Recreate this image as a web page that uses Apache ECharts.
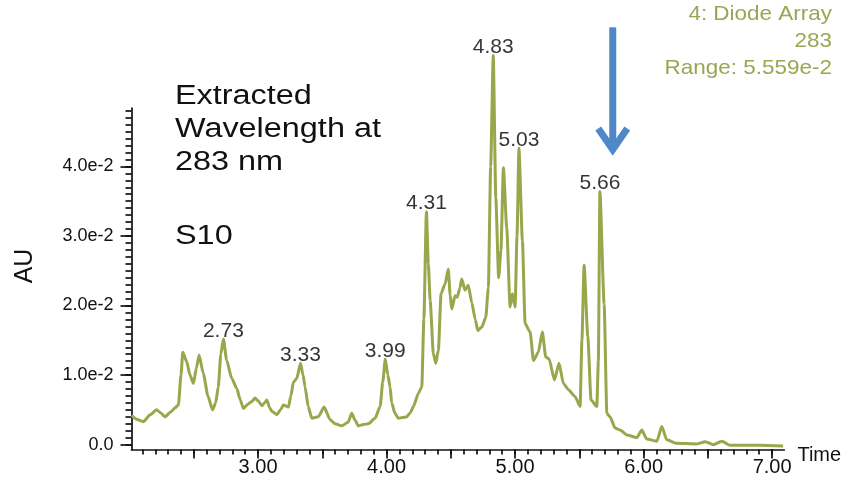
<!DOCTYPE html>
<html>
<head>
<meta charset="utf-8">
<script src="https://cdn.jsdelivr.net/npm/echarts@6/dist/echarts.min.js"></script>
<style>
  html, body { margin: 0; padding: 0; background: #ffffff; }
  #chart { width: 848px; height: 488px; }
</style>
</head>
<body>
<div id="chart"></div>
<script>
// Retention time (min) of each sampled point of the trace
const times = [
  2.015, 2.06, 2.107, 2.16, 2.21, 2.24, 2.276, 2.32, 2.354, 2.38,
  2.40, 2.414, 2.445, 2.47, 2.497, 2.52, 2.541, 2.574, 2.61, 2.645,
  2.67, 2.69, 2.71, 2.73, 2.756, 2.795, 2.834, 2.86, 2.886, 2.92,
  2.951, 2.977, 3.00, 3.03, 3.05, 3.068, 3.09, 3.107, 3.146, 3.175,
  3.197, 3.236, 3.255, 3.275, 3.301, 3.33, 3.35, 3.366, 3.39, 3.418,
  3.469, 3.514, 3.56, 3.60, 3.651, 3.70, 3.729, 3.755, 3.78, 3.82,
  3.858, 3.911, 3.95, 3.97, 3.99, 4.01, 4.027, 4.04, 4.065, 4.092,
  4.125, 4.157, 4.185, 4.209, 4.248, 4.274, 4.29, 4.31, 4.325, 4.339,
  4.364, 4.383, 4.403, 4.424, 4.455, 4.48, 4.495, 4.507, 4.533, 4.55,
  4.57, 4.585, 4.61, 4.636, 4.663, 4.69, 4.71, 4.741, 4.772, 4.792,
  4.81, 4.83, 4.85, 4.872, 4.89, 4.909, 4.935, 4.961, 4.979, 5.00,
  5.015, 5.03, 5.057, 5.078, 5.117, 5.143, 5.181, 5.212, 5.239, 5.265,
  5.306, 5.342, 5.376, 5.415, 5.467, 5.506, 5.52, 5.537, 5.566, 5.591,
  5.636, 5.648, 5.66, 5.693, 5.714, 5.739, 5.778, 5.817, 5.869, 5.947,
  5.986, 6.025, 6.103, 6.142, 6.18, 6.258, 6.414, 6.479, 6.543, 6.609,
  6.673, 6.907, 7.086
];

// Absorbance (AU) at 283 nm for each time above
const absorbance = [
  0.0042, 0.0036, 0.0033, 0.0043, 0.0050, 0.0046, 0.0040, 0.0047, 0.0053, 0.0057,
  0.0100, 0.0133, 0.0119, 0.0100, 0.0088, 0.0110, 0.0129, 0.0102, 0.0070, 0.0050,
  0.0060, 0.0083, 0.0130, 0.0152, 0.0121, 0.0095, 0.0081, 0.0065, 0.0052, 0.0058,
  0.0062, 0.0067, 0.0063, 0.0056, 0.0060, 0.0064, 0.0053, 0.0048, 0.0043, 0.0050,
  0.0057, 0.0054, 0.0070, 0.0090, 0.0095, 0.0117, 0.0100, 0.0083, 0.0055, 0.0038,
  0.0040, 0.0054, 0.0036, 0.0030, 0.0027, 0.0032, 0.0045, 0.0035, 0.0027, 0.0029,
  0.0030, 0.0038, 0.0055, 0.0090, 0.0123, 0.0100, 0.0083, 0.0060, 0.0045, 0.0038,
  0.0039, 0.0040, 0.0046, 0.0055, 0.0074, 0.0083, 0.0180, 0.0335, 0.0260, 0.0207,
  0.0131, 0.0117, 0.0136, 0.0217, 0.0231, 0.0252, 0.0215, 0.0195, 0.0214, 0.0212,
  0.0225, 0.0238, 0.0222, 0.0229, 0.0204, 0.0180, 0.0164, 0.0169, 0.0183, 0.0226,
  0.0400, 0.0560, 0.0355, 0.0240, 0.0280, 0.0398, 0.0312, 0.0198, 0.0217, 0.0198,
  0.0300, 0.0426, 0.0293, 0.0174, 0.0162, 0.0121, 0.0133, 0.0162, 0.0126, 0.0123,
  0.0093, 0.0117, 0.0088, 0.0079, 0.0069, 0.0055, 0.0150, 0.0258, 0.0155, 0.0064,
  0.0055, 0.0120, 0.0364, 0.0202, 0.0045, 0.0040, 0.0024, 0.0021, 0.0014, 0.0010,
  0.0021, 0.0008, 0.0005, 0.0026, 0.0007, 0.0002, 0.0001, 0.0004, 0.0000, 0.0005,
  -0.0001, -0.0001, -0.0002
];

// Labelled peak apexes (retention time, min)
const peakTimes = [2.73, 3.33, 3.99, 4.31, 4.83, 5.03, 5.66];

// Axis label positions
const yLabelValues = [0, 0.01, 0.02, 0.03, 0.04];
const xLabelValues = [3, 4, 5, 6, 7];

// Annotation texts
const titleLines = ['Extracted', 'Wavelength at', '283 nm'];
const sampleName = 'S10';
const detectorLines = ['4: Diode Array', '283', 'Range: 5.559e-2'];
const yAxisTitle = 'AU';

const xMin = 2.015, xMax = 7.095;
const yMin = -0.0007, yMax = 0.0484;

// tick positions: major x ticks every 0.5 min, minor every 0.1 min; minor y every 0.001
const xMajorTicks = [];
for (let i = 5; i <= 14; i++) xMajorTicks.push(+(i * 0.5).toFixed(2));
const xMinorTicks = [];
for (let i = 21; i <= 70; i++) xMinorTicks.push(+(i * 0.1).toFixed(2));
const yMinorTicks = [];
for (let i = 0; i <= 48; i++) yMinorTicks.push(+(i * 0.001).toFixed(4));

const traceColor = '#9aa64c';
const font = "'Liberation Sans', Arial, Helvetica, sans-serif";

const traceData = times.map((t, i) => [t, absorbance[i]]);
const peakData = peakTimes.map(t => [t, absorbance[times.indexOf(t)]]);

const chart = echarts.init(document.getElementById('chart'), null, { renderer: 'canvas' });

const axisLineStyle = { color: '#111111', width: 1.7 };

// left-column annotation: stretched Helvetica-like text
const titleGraphics = titleLines.map((line, i) => ({
  id: 'title' + i, type: 'text', x: 175, y: 97 + i * 33, scaleX: 1.2,
  style: { text: line, fontFamily: font, fontSize: 27, fill: '#111111', align: 'left', verticalAlign: 'middle' }
}));
titleGraphics.push({
  id: 'sample', type: 'text', x: 175, y: 237, scaleX: 1.2,
  style: { text: sampleName, fontFamily: font, fontSize: 27, fill: '#111111', align: 'left', verticalAlign: 'middle' }
});
// rotated y-axis title
titleGraphics.push({
  id: 'yTitle', type: 'text', x: 25, y: 266, rotation: Math.PI / 2,
  style: { text: yAxisTitle, fontFamily: font, fontSize: 25, fill: '#111111', align: 'center', verticalAlign: 'middle' }
});
// detector caption, right aligned in the top corner
const detectorGraphics = detectorLines.map((line, i) => ({
  id: 'detector' + i, type: 'text', x: 832, y: 14 + i * 27, scaleX: 1.07,
  style: { text: line, fontFamily: font, fontSize: 21, fill: '#9ba653', align: 'right', verticalAlign: 'middle' }
}));

chart.setOption({
  animation: false,
  backgroundColor: '#ffffff',
  grid: { left: 131.5, right: 63.7, top: 108, bottom: 38.5 },
  xAxis: [
    {
      type: 'value', min: xMin, max: xMax,
      position: 'bottom',
      axisLine: { show: true, onZero: false, lineStyle: axisLineStyle },
      axisTick: { show: true, customValues: xMajorTicks, length: 9, lineStyle: axisLineStyle },
      axisLabel: {
        customValues: xLabelValues, margin: 8,
        formatter: v => v.toFixed(2),
        fontFamily: font, fontSize: 20, color: '#111111'
      },
      splitLine: { show: false },
      name: 'Time', nameLocation: 'end', nameGap: 12,
      nameTextStyle: { fontFamily: font, fontSize: 20, color: '#111111', verticalAlign: 'top', lineHeight: 12 }
    },
    {
      type: 'value', min: xMin, max: xMax,
      position: 'bottom', offset: 0,
      axisLine: { show: false, onZero: false },
      axisTick: { show: true, customValues: xMinorTicks, length: 5, lineStyle: axisLineStyle },
      axisLabel: { show: false },
      splitLine: { show: false }
    }
  ],
  yAxis: [
    {
      type: 'value', min: yMin, max: yMax,
      position: 'left',
      axisLine: { show: true, onZero: false, lineStyle: axisLineStyle },
      axisTick: { show: true, customValues: yLabelValues, length: 11, lineStyle: axisLineStyle },
      axisLabel: {
        customValues: yLabelValues, margin: 18,
        formatter: v => v === 0 ? '0.0' : (v * 100).toFixed(1) + 'e-2',
        fontFamily: font, fontSize: 18, color: '#111111'
      },
      splitLine: { show: false }
    },
    {
      type: 'value', min: yMin, max: yMax,
      position: 'left', offset: 0,
      axisLine: { show: false, onZero: false },
      axisTick: { show: true, customValues: yMinorTicks, length: 6, lineStyle: axisLineStyle },
      axisLabel: { show: false },
      splitLine: { show: false }
    }
  ],
  series: [
    {
      type: 'line',
      data: traceData,
      showSymbol: false,
      symbol: 'none',
      clip: false,
      smooth: 0.2,
      smoothMonotone: 'x',
      lineStyle: { color: traceColor, width: 3, join: 'round' },
      z: 3
    },
    {
      type: 'scatter',
      data: peakData,
      symbolSize: 1,
      clip: false,
      itemStyle: { color: 'rgba(0,0,0,0)' },
      label: {
        show: true, position: 'top', distance: 0, offset: [0, 3],
        formatter: p => p.value[0].toFixed(2),
        fontFamily: font, fontSize: 21, color: '#000000'
      },
      z: 4
    }
  ],
  graphic: titleGraphics.concat(detectorGraphics)
});

// Blue arrow pointing down at the 5.66 peak
const arrowTime = 5.76;
const arrowTop = chart.convertToPixel({ gridIndex: 0 }, [arrowTime, 0.0600]);
const arrowTip = chart.convertToPixel({ gridIndex: 0 }, [arrowTime, 0.0420]);
const arrowColor = '#4f88c6';
chart.setOption({
  graphic: [
    {
      id: 'arrowShaft', type: 'line',
      shape: { x1: arrowTop[0], y1: arrowTop[1], x2: arrowTip[0], y2: arrowTip[1] - 4 },
      style: { stroke: arrowColor, lineWidth: 7 }
    },
    {
      id: 'arrowHead', type: 'polyline',
      shape: { points: [[arrowTip[0] - 14.5, arrowTip[1] - 24], [arrowTip[0], arrowTip[1] - 3], [arrowTip[0] + 14.5, arrowTip[1] - 24]] },
      style: { stroke: arrowColor, lineWidth: 7, fill: null, lineJoin: 'miter' }
    }
  ]
});
</script>
</body>
</html>
